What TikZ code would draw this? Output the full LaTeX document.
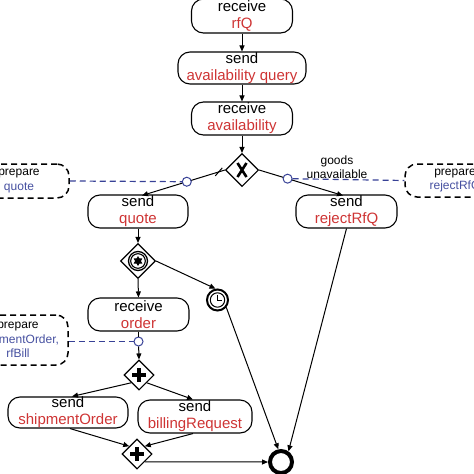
\documentclass[tikz,border=0pt]{standalone}
\usepackage{fontspec}
\setmainfont{Liberation Sans}
\usetikzlibrary{shapes.geometric,arrows.meta,calc}
\definecolor{tred}{RGB}{206,52,52}
\definecolor{tblue}{RGB}{70,80,160}
\definecolor{lblue}{RGB}{55,65,150}
\begin{document}
\begin{tikzpicture}[x=1pt,y=-1pt,
  task/.style={draw, line width=1.1pt, rounded corners=12pt, align=center, inner sep=0pt, font=\fontsize{15}{17}\selectfont},
  prep/.style={draw, dash pattern=on 6pt off 4pt, line width=1.5pt, rounded corners=12pt, align=center, inner sep=0pt, font=\fontsize{12}{14.5}\selectfont},
  gw/.style={draw, diamond, line width=1.1pt, inner sep=0pt, minimum width=33pt, minimum height=33pt, fill=white},
  flow/.style={line width=1pt, -{Triangle[length=6pt,width=5pt]}},
  plain/.style={line width=1pt},
  assoc/.style={draw=lblue, line width=1.2pt, dash pattern=on 6pt off 4pt},
  dot/.style={circle, draw=lblue, fill=white, line width=1pt, minimum size=9pt, inner sep=0pt},
  lbl/.style={font=\fontsize{12}{14}\selectfont, align=center, inner sep=0pt},
  gwicon/.style={line width=3.4pt},
]
\useasboundingbox (0,0) rectangle (474,474);
\clip (0,0) rectangle (474,474);

% tasks
\node[task, minimum width=101pt, minimum height=34pt] (rfq) at (242,16) {receive\\\textcolor{tred}{rfQ}};
\node[task, minimum width=128pt, minimum height=32pt] (avq) at (242,68) {send\\\textcolor{tred}{availability query}};
\node[task, minimum width=101pt, minimum height=33pt] (av) at (242,118.5) {receive\\\textcolor{tred}{availability}};
\node[task, minimum width=100pt, minimum height=33pt] (quote) at (138,211.5) {send\\\textcolor{tred}{quote}};
\node[task, minimum width=101pt, minimum height=33pt] (rej) at (346.5,211.5) {send\\\textcolor{tred}{rejectRfQ}};
\node[task, minimum width=101pt, minimum height=33pt] (order) at (138.5,314.5) {receive\\\textcolor{tred}{order}};
\node[task, minimum width=120pt, minimum height=31pt] (ship) at (68,412.5) {send\\\textcolor{tred}{shipmentOrder}};
\node[task, minimum width=114pt, minimum height=33pt] (bill) at (195,416.5) {send\\\textcolor{tred}{billingRequest}};

% data (prepare) boxes
\node[prep, minimum width=100pt, minimum height=34pt] (pq) at (19,181) {prepare\\\textcolor{tblue}{quote}};
\node[prep, minimum width=100pt, minimum height=33pt] (pr) at (455,180.5) {prepare\\\textcolor{tblue}{rejectRfQ}};
\node[prep, minimum width=100pt, minimum height=50pt] (ps) at (18,340) {prepare\\\textcolor{tblue}{shipmentOrder,}\\\textcolor{tblue}{rfBill}};

% gateways
\node[gw] (gx) at (242,170) {};
\draw[line width=2.6pt] ($(gx)+(-4.5,-7)$) -- ($(gx)+(4.5,7)$);
\draw[line width=2.6pt] ($(gx)+(-4.5,7)$) -- ($(gx)+(4.5,-7)$);

\node[gw, minimum width=35pt, minimum height=35pt] (eg) at (138,261) {};
\draw[line width=1.3pt] (eg) circle (9.5pt);
\draw[line width=1.1pt] (eg) circle (7.3pt);
\node[star, star points=6, star point ratio=1.7, fill=black, minimum size=10pt, inner sep=0pt] (egs) at (eg) {};

\node[gw, minimum width=30pt, minimum height=30pt] (pg1) at (139,375) {};
\draw[gwicon] ($(pg1)+(-7,0)$) -- ($(pg1)+(7,0)$);
\draw[gwicon] ($(pg1)+(0,-7)$) -- ($(pg1)+(0,7)$);

\node[gw, minimum width=30pt, minimum height=30pt] (pg2) at (137,454) {};
\draw[gwicon] ($(pg2)+(-7,0)$) -- ($(pg2)+(7,0)$);
\draw[gwicon] ($(pg2)+(0,-7)$) -- ($(pg2)+(0,7)$);

% events
\node[circle, draw, line width=2pt, minimum size=21pt, inner sep=0pt] (timer) at (217.5,300) {};
\draw[line width=1pt] (timer) circle (7.2pt);
\draw[line width=1pt] ($(timer)+(0,-5.5)$) -- (timer.center) -- ($(timer)+(4.5,0)$);

\node[circle, draw, line width=4pt, minimum size=22pt, inner sep=0pt] (end) at (281,462) {};

% flows
\draw[flow] (rfq.south) -- (avq.north);
\draw[flow] (avq.south) -- (av.north);
\draw[flow] (av.south) -- (gx.north);
\coordinate (qtop) at (142,195.5);
\coordinate (rtop) at (343,195.5);
\draw[flow] (gx.west) -- (qtop);
\draw[flow] (gx.east) -- (rtop);
\path (gx.west) -- (qtop) coordinate[pos=0.46] (c1p) coordinate[pos=0.075] (dflt);
\path (gx.east) -- (rtop) coordinate[pos=0.34] (c2p);
\draw[line width=1pt] ($(dflt)+(-3.5,4)$) -- ($(dflt)+(3.5,-4)$);
\node[lbl] (gu) at (337,167) {goods\\unavailable};

\draw[flow] (quote.south) -- (eg.north);
\draw[flow] (eg.east) -- (timer.100);
\draw[flow] (eg.south) -- (order.north);

\node[dot] (c1) at (c1p) {};
\node[dot] (c2) at (c2p) {};
\node[dot] (c3) at (138.5,341.5) {};
\draw[assoc] (pq.east) -- (c1);
\draw[assoc] (c2) -- (pr.west);
\draw[assoc] (ps.east |- c3) -- (c3);

\draw[plain] (order.south) -- (c3);
\draw[flow] (c3) -- (pg1.north);
\draw[flow] (pg1.south west) -- ([xshift=4pt]ship.north);
\draw[flow] (pg1.south east) -- ([xshift=-2pt]bill.north);
\draw[flow] ([xshift=2pt]ship.south) -- (pg2.north west);
\draw[flow] ([xshift=-2pt]bill.south) -- (pg2.north east);
\draw[flow] (pg2.south east) -- (end.west);
\draw[flow] (timer.-40) -- (end.102);
\draw[flow] (rej.south) -- (end.55);
\end{tikzpicture}
\end{document}
